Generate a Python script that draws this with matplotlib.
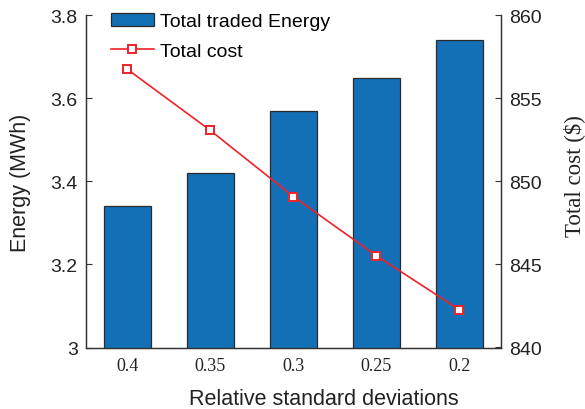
import matplotlib.pyplot as plt

# data
deviations = ['0.4', '0.35', '0.3', '0.25', '0.2']
energy = [3.34, 3.42, 3.57, 3.65, 3.74]
cost = [856.75, 853.07, 849.09, 845.53, 842.28]

sans = 'Liberation Sans'
serif = 'Liberation Serif'
bar_col = '#1470b6'
line_col = '#ee2229'
ax_col = '#333333'
txt_col = '#222222'

fig = plt.figure(figsize=(5.85, 4.1), dpi=100)
ax = fig.add_axes([0.147, 0.150, 0.709, 0.81])

pos = list(range(1, len(deviations) + 1))
bars = ax.bar(pos, energy, width=0.57, color=bar_col, edgecolor='#2a2a2a',
              linewidth=0.9, label='Total traded Energy', zorder=2)
ax.set_xlim(0.5, 5.5)
ax.set_ylim(3, 3.8)
ax.set_yticks([3, 3.2, 3.4, 3.6, 3.8])
ax.set_yticklabels(['3', '3.2', '3.4', '3.6', '3.8'])
ax.set_xticks(pos)
ax.set_xticklabels(deviations, fontfamily=serif, fontsize=13)
ax.tick_params(axis='x', length=0, pad=7, colors=txt_col)
ax.tick_params(axis='y', direction='in', length=4, width=0.8, colors=ax_col,
               labelsize=14, labelcolor=txt_col, pad=6)
for t in ax.get_yticklabels():
    t.set_fontfamily(sans)

ylab = ax.set_ylabel('Energy (MWh)', fontfamily=sans, fontsize=15.5, color=txt_col)
ax.yaxis.set_label_coords(-0.157, 0.5)
ylab.set_verticalalignment('center')

xlab = ax.set_xlabel('Relative standard deviations', fontfamily=sans,
                     fontsize=15.5, color=txt_col)
ax.xaxis.set_label_coords(0.573, -0.169)
xlab.set_verticalalignment('baseline')

ax2 = ax.twinx()
ax2.set_position(ax.get_position())
line, = ax2.plot(pos, cost, color=line_col, linewidth=1.2, marker='s',
                 markersize=6, markerfacecolor='white', markeredgecolor=line_col,
                 markeredgewidth=1.4, label='Total cost', zorder=3)
ax2.set_ylim(840, 860)
ax2.set_yticks([840, 845, 850, 855, 860])
ax2.tick_params(axis='y', direction='in', length=4, width=0.8, colors=ax_col,
                labelsize=14, labelcolor=txt_col, pad=6)
for t in ax2.get_yticklabels():
    t.set_fontfamily(sans)
rlab = ax2.set_ylabel('Total cost ($)', fontfamily=serif, fontsize=16.5, color=txt_col)
ax2.yaxis.set_label_coords(1.176, 0.518)
rlab.set_verticalalignment('center')

for a in (ax, ax2):
    a.spines['top'].set_visible(False)
    for s in ('left', 'right', 'bottom'):
        a.spines[s].set_color(ax_col)
        a.spines[s].set_linewidth(0.9)

leg = ax2.legend([bars, line], ['Total traded Energy', 'Total cost'],
                 loc='upper left', bbox_to_anchor=(0.06, 1.008), frameon=False,
                 prop={'family': sans, 'size': 14}, handlelength=2.2,
                 handletextpad=0.35, labelspacing=0.6, borderpad=0,
                 borderaxespad=0)

fig.savefig('out.png', dpi=100)
